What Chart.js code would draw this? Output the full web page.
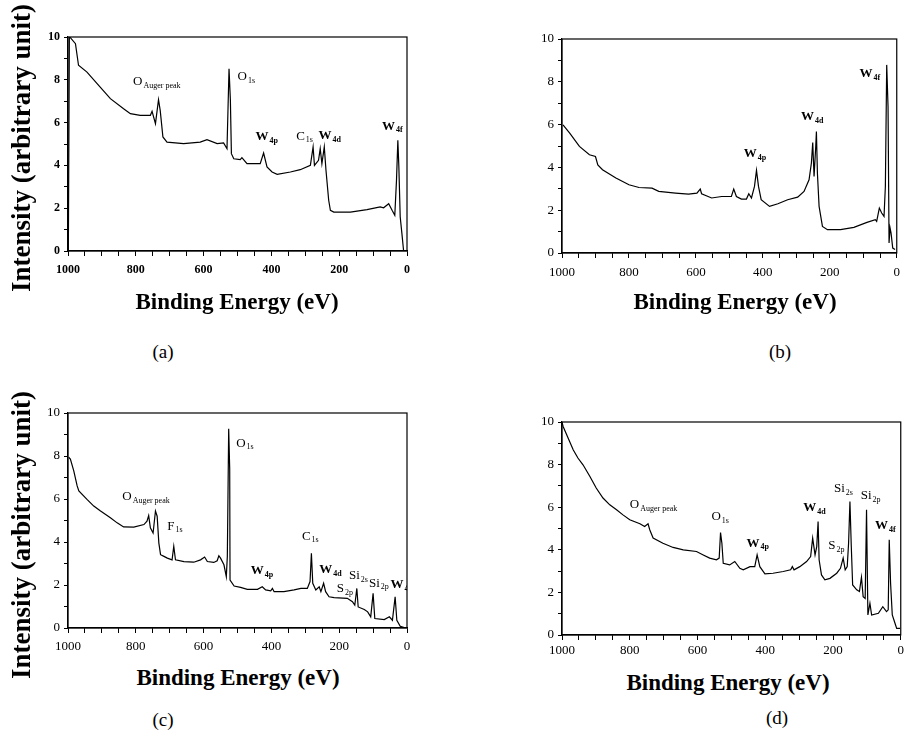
<!DOCTYPE html>
<html><head><meta charset="utf-8">
<script src="https://cdn.jsdelivr.net/npm/chart.js@4.4.1/dist/chart.umd.min.js"></script>
<style>
body{margin:0;background:#fff;width:907px;height:750px;position:relative;overflow:hidden;font-family:"Liberation Serif","Times New Roman",serif;color:#000}
.box{position:absolute}
.tx{position:absolute;white-space:nowrap;font-family:"Liberation Serif",serif;font-weight:bold;font-size:23px;transform:translate(-50%,-50%)}
.ty{position:absolute;white-space:nowrap;font-family:"Liberation Serif",serif;font-weight:bold;font-size:27px;transform:translate(-50%,-50%) rotate(-90deg)}
.sl{position:absolute;white-space:nowrap;font-family:"Liberation Serif",serif;font-size:19px;transform:translate(-50%,-50%)}
</style></head><body>
<div class="box" style="left:0;top:0"><canvas id="ca" width="440" height="290"></canvas></div>
<div class="box" style="left:470px;top:0"><canvas id="cb" width="437" height="290"></canvas></div>
<div class="box" style="left:0;top:375px"><canvas id="cc" width="440" height="290"></canvas></div>
<div class="box" style="left:470px;top:375px"><canvas id="cd" width="437" height="295"></canvas></div>

<div class="ty" style="left:21px;top:148px">Intensity (arbitrary unit)</div>
<div class="ty" style="left:21px;top:535px">Intensity (arbitrary unit)</div>
<div class="tx" style="left:237px;top:302px">Binding Energy (eV)</div>
<div class="tx" style="left:735px;top:302px">Binding Energy (eV)</div>
<div class="tx" style="left:238px;top:678px">Binding Energy (eV)</div>
<div class="tx" style="left:728px;top:683px">Binding Energy (eV)</div>
<div class="sl" style="left:163px;top:352px">(a)</div>
<div class="sl" style="left:780px;top:352px">(b)</div>
<div class="sl" style="left:163px;top:720px">(c)</div>
<div class="sl" style="left:777px;top:718px">(d)</div>

<script>
// ---- axis ticks ----
const xTickLabels = [0, 200, 400, 600, 800, 1000];
const yTickLabels = [0, 2, 4, 6, 8, 10];

// ---- panel (a) ----
const energyA = [999,996,993,978,969,944,905,875,836,816,787,757,752,742,733,728,720,708,659,610,590,560,541,531,525,521,518,511,492,487,472,452,433,423,413,398,383,344,315,285,277,273,261,256,251,244,239,231,226,216,167,118,79,69,54,44,36,31,27,24,20,15,10];
const intensityA = [0,10.0,9.97,9.69,8.68,8.36,7.66,7.12,6.65,6.42,6.34,6.34,6.53,5.95,7.07,6.57,5.33,5.09,5.02,5.09,5.20,5.02,5.05,4.78,8.52,7.04,4.55,4.31,4.27,4.36,4.08,4.08,4.08,4.58,3.93,3.69,3.58,3.69,3.80,4.00,4.86,4.00,4.24,4.78,4.08,4.86,3.77,2.37,1.90,1.82,1.82,1.93,2.06,2.02,2.21,1.90,1.67,3.30,5.17,3.93,1.59,0.81,0];
const peakNameA = ['O','O','W','C','W','W'];
const peakSubA = ['Auger peak','1s','4p','1s','4d','4f'];
const peakEA = [808,500,447,327,261,74];
const peakIA = [7.9,8.13,5.33,5.37,5.37,5.83];

// ---- panel (b) ----
const energyB = [997,977,948,918,900,893,879,839,800,770,731,711,661,622,597,587,583,553,523,494,487,479,464,449,442,434,425,419,413,405,380,355,326,296,277,262,255,251,247,242,240,237,232,222,207,168,128,89,64,60,52,45,38,34,30,26,23,20,17,12,5];
const intensityB = [5.99,5.60,4.98,4.59,4.51,4.12,3.89,3.50,3.19,3.06,3.03,2.88,2.80,2.75,2.80,2.99,2.77,2.57,2.64,2.64,2.99,2.64,2.52,2.52,2.77,2.57,3.11,3.86,3.11,2.49,2.18,2.30,2.49,2.61,2.88,3.42,4.20,5.16,3.58,4.98,5.68,3.73,2.18,1.24,1.09,1.09,1.20,1.43,1.56,1.48,2.10,1.87,1.71,3.11,8.79,6.84,0.47,1.17,0.93,0.23,0.16];
const peakNameB = ['W','W','W'];
const peakSubB = ['4p','4d','4f'];
const peakEB = [457,286,111];
const peakIB = [4.62,6.35,8.37];

// ---- panel (c) ----
const energyC = [998,993,983,973,968,944,924,904,875,855,836,806,776,767,762,757,749,742,737,732,727,717,707,693,688,683,658,629,609,597,589,570,560,555,550,540,533,530,526,523,522,510,491,471,441,427,417,402,397,392,363,333,313,294,286,282,278,269,259,254,246,240,230,215,176,161,154,148,144,126,116,107,100,95,67,52,43,35,30,20,8];
const intensityC = [7.94,7.86,7.31,6.61,6.38,5.98,5.67,5.44,5.13,4.89,4.70,4.69,4.81,4.97,5.23,4.66,4.42,5.44,5.20,3.95,3.41,3.33,3.25,3.17,3.80,3.17,3.09,3.06,3.17,3.30,3.09,3.05,3.13,3.36,3.25,2.94,2.39,3.33,9.27,7.39,2.23,1.95,1.89,1.80,1.80,1.92,1.77,1.73,1.84,1.69,1.69,1.77,1.84,1.84,2.16,3.48,2.08,1.77,1.92,1.69,2.08,1.69,1.45,1.41,1.38,1.22,1.06,1.84,0.98,0.86,0.75,0.52,1.61,0.44,0.39,0.52,0.36,1.45,0.36,0.08,0.02];
const peakNameC = ['O','F','O','W','C','W','S','Si','Si','W'];
const peakSubC = ['Auger peak','1s','1s','4p','1s','4d','2p','2s','2p','4f'];
const peakEC = [840,707,504,461,310,259,207,171,112,49];
const peakIC = [6.09,4.73,8.6,2.66,4.27,2.7,1.84,2.44,2.08,2.0];

// ---- panel (d) ----
const energyD = [1000,997,982,967,953,938,918,899,879,859,839,820,800,770,756,746,741,731,702,672,642,603,583,564,544,536,532,528,524,505,490,475,465,445,431,424,416,401,377,347,325,320,315,298,278,266,260,253,248,244,241,234,224,209,189,178,170,164,158,154,150,146,142,130,122,116,111,105,101,97,91,86,66,53,42,37,34,30,25,17,12,2];
const intensityD = [10.0,9.80,9.25,8.70,8.31,7.99,7.45,6.90,6.43,6.11,5.88,5.64,5.41,5.22,5.09,5.22,4.94,4.55,4.31,4.11,4.00,3.92,3.76,3.61,3.53,3.61,4.81,4.31,3.37,3.29,3.45,3.13,3.06,3.21,3.21,3.76,3.21,2.87,2.90,2.98,3.06,3.21,3.06,3.21,3.45,3.68,4.55,3.76,4.15,5.33,3.53,2.82,2.59,2.66,2.90,3.13,3.61,3.06,3.21,4.31,6.27,4.15,2.35,2.12,2.04,2.71,1.80,1.72,5.88,0.94,1.49,0.94,1.02,1.33,1.10,1.18,4.47,2.43,0.94,0.55,0.31,0.31];
const peakNameD = ['O','O','W','W','S','Si','Si','W'];
const peakSubD = ['Auger peak','1s','4p','4d','2p','2s','2p','4f'];
const peakED = [800,559,455,288,214,197,118,76];
const peakID = [6.11,5.56,4.31,5.96,4.2,6.87,6.54,5.14];

const SERIF = '"Liberation Serif", serif';

const framePlugin = {
  id: 'frame',
  afterDraw(chart) {
    const a = chart.chartArea, ctx = chart.ctx;
    ctx.save();
    ctx.strokeStyle = '#000';
    ctx.lineWidth = 1.2;
    ctx.strokeRect(a.left, a.top, a.right - a.left, a.bottom - a.top);
    ctx.restore();
  }
};

const peakPlugin = {
  id: 'peaks',
  afterDatasetsDraw(chart, args, opts) {
    const ctx = chart.ctx, xs = chart.scales.x, ys = chart.scales.y, a = chart.chartArea;
    ctx.save();
    ctx.beginPath();
    ctx.rect(a.left, a.top - 20, a.right - a.left, a.bottom - a.top + 20);
    ctx.clip();
    ctx.fillStyle = '#000';
    ctx.textBaseline = 'middle';
    ctx.textAlign = 'left';
    opts.names.forEach((n, i) => {
      const px = xs.getPixelForValue(opts.e[i]);
      const py = ys.getPixelForValue(opts.v[i]);
      const bold = n === 'W';
      ctx.font = (bold ? 'bold ' : '') + '13px ' + SERIF;
      ctx.fillText(n, px, py);
      const w = ctx.measureText(n).width;
      ctx.font = (bold ? 'bold ' : '') + '8px ' + SERIF;
      ctx.fillText(opts.subs[i], px + w + 1, py + 4);
    });
    ctx.restore();
  }
};

function makeChart(id, energy, intensity, names, subs, pe, pv, pad, tickFont, xPad) {
  const pts = energy.map((e, i) => ({ x: e, y: intensity[i] }));
  return new Chart(document.getElementById(id), {
    type: 'line',
    data: { datasets: [{ data: pts, borderColor: '#000', borderWidth: 1.2, pointRadius: 0, tension: 0, fill: false }] },
    options: {
      responsive: false,
      animation: false,
      layout: { padding: pad },
      plugins: {
        legend: { display: false },
        tooltip: { enabled: false },
        peaks: { names: names, subs: subs, e: pe, v: pv }
      },
      scales: {
        x: {
          type: 'linear', reverse: true, min: 0, max: 1000,
          afterFit: s => { s.height = 25; },
          ticks: {
            stepSize: 50, autoSkip: false, maxRotation: 0, padding: xPad, color: '#000', font: tickFont,
            callback: v => xTickLabels.includes(v) ? String(v) : ''
          },
          grid: { drawOnChartArea: false, tickLength: 5, color: '#000', tickWidth: 1 },
          border: { color: '#000', width: 1.2 }
        },
        y: {
          min: 0, max: 10,
          afterFit: s => { s.width = 30; },
          ticks: {
            stepSize: 1, autoSkip: false, padding: 4, color: '#000', font: tickFont,
            callback: v => yTickLabels.includes(v) ? String(v) : ''
          },
          grid: { drawOnChartArea: false, tickLength: 4, color: '#000', tickWidth: 1 },
          border: { color: '#000', width: 1.2 }
        }
      }
    },
    plugins: [framePlugin, peakPlugin]
  });
}

function drawAll() {
  makeChart('ca', energyA, intensityA, peakNameA, peakSubA, peakEA, peakIA,
    { left: 38, top: 37, right: 33, bottom: 14 }, { family: SERIF, size: 12, weight: 'bold' }, 7);
  makeChart('cb', energyB, intensityB, peakNameB, peakSubB, peakEB, peakIB,
    { left: 62, top: 39, right: 7, bottom: 12 }, { family: SERIF, size: 13 }, 7);
  makeChart('cc', energyC, intensityC, peakNameC, peakSubC, peakEC, peakIC,
    { left: 38, top: 38, right: 33, bottom: 12 }, { family: SERIF, size: 13 }, 6);
  makeChart('cd', energyD, intensityD, peakNameD, peakSubD, peakED, peakID,
    { left: 62, top: 47, right: 6, bottom: 10 }, { family: SERIF, size: 13 }, 3);
}

Promise.all([
  document.fonts.load('13px "Liberation Serif"'),
  document.fonts.load('bold 13px "Liberation Serif"')
]).then(drawAll, drawAll);
</script>
</body></html>
